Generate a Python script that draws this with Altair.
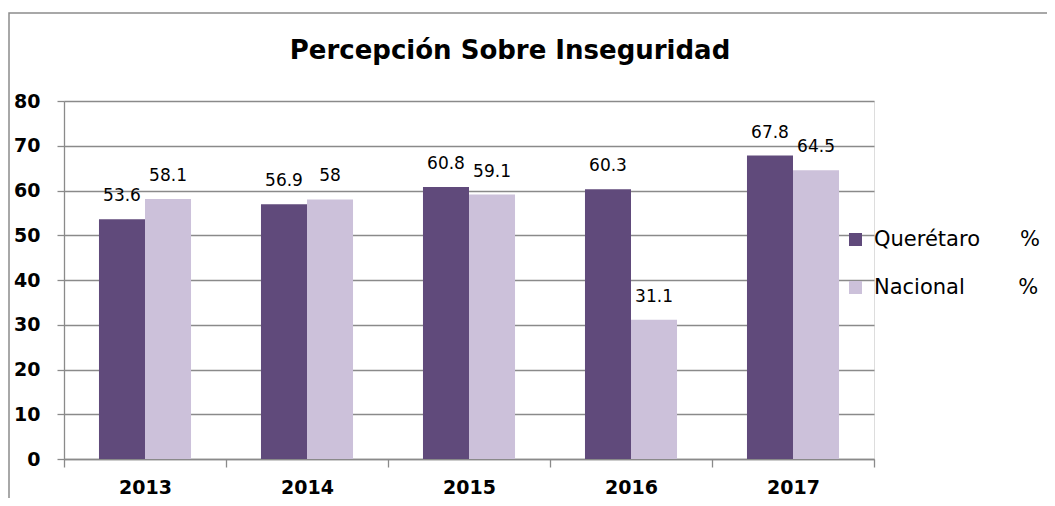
import altair as alt
import pandas as pd

years = ["2013", "2014", "2015", "2016", "2017"]
queretaro = [53.6, 56.9, 60.8, 60.3, 67.8]
nacional = [58.1, 58, 59.1, 31.1, 64.5]
series = ["Querétaro", "Nacional"]
colors = ["#604A7B", "#CCC1DA"]
y_ticks = [0, 10, 20, 30, 40, 50, 60, 70, 80]

rows = []
for i, yr in enumerate(years):
    rows.append({"year": yr, "serie": series[0], "valor": queretaro[i]})
    rows.append({"year": yr, "serie": series[1], "valor": nacional[i]})
df = pd.DataFrame(rows)

FONT = "DejaVu Sans"
GRAY = "#8a8a8a"
NB = "\u00a0"
lab_q = "Querétaro" + NB * 6 + "%"
lab_n = "Nacional" + NB * 8 + "%"

x_enc = alt.X("year:N", sort=years,
              scale=alt.Scale(paddingInner=0, paddingOuter=0),
              axis=alt.Axis(title=None, labelFont=FONT, labelFontSize=19,
                            labelFontWeight="bold", labelColor="black",
                            labelAngle=0, tickBand="extent", ticks=True,
                            tickSize=8, tickColor=GRAY, tickWidth=1.3,
                            domainColor=GRAY, domainWidth=1.3,
                            labelPadding=11, grid=False))
xo_enc = alt.XOffset("serie:N", sort=series,
                     scale=alt.Scale(paddingInner=0, paddingOuter=0.76))
y_enc = alt.Y("valor:Q", scale=alt.Scale(domain=[0, 80], nice=False),
              axis=alt.Axis(title=None, values=y_ticks, labelFont=FONT,
                            labelFontSize=19, labelFontWeight="bold",
                            labelColor="black", tickSize=7, tickColor=GRAY,
                            tickWidth=1.3, domainColor=GRAY, domainWidth=1.3,
                            gridColor=GRAY, gridWidth=1.3, grid=True,
                            labelPadding=17))

legend = alt.Legend(orient="none", legendX=781, legendY=128, title=None,
                    symbolType="square", symbolSize=169, symbolStrokeWidth=0,
                    labelFont=FONT, labelFontSize=21, labelColor="black",
                    labelOffset=8, rowPadding=26, padding=0,
                    labelLimit=300,
                    labelExpr=f"datum.label == 'Querétaro' ? '{lab_q}' : '{lab_n}'")

base = alt.Chart(df)

bars = base.mark_bar().encode(
    x=x_enc, xOffset=xo_enc, y=y_enc,
    color=alt.Color("serie:N", sort=series,
                    scale=alt.Scale(domain=series, range=colors),
                    legend=legend),
)

labels = base.transform_calculate(
    label="toString(datum.valor)"
).mark_text(font=FONT, fontSize=17, baseline="middle", dy=-23,
            color="black").encode(
    x=x_enc, xOffset=xo_enc, y=y_enc, text="label:N"
)

border = alt.Chart(alt.Data(values=[{}])).mark_rect(
    fillOpacity=0, stroke="#8c8c8c", strokeWidth=1.5
).encode(x=alt.value(-55), x2=alt.value(1200), y=alt.value(-88),
         y2=alt.value(600))

chart = alt.layer(border, bars, labels).properties(
    width=810, height=358,
    title=alt.TitleParams("Percepción Sobre Inseguridad", font=FONT,
                          fontSize=26, fontWeight="bold", color="black",
                          anchor="middle", dx=41, dy=73, offset=0,
                          baseline="alphabetic"),
    autosize=alt.AutoSizeParams(type="none"),
    padding={"left": 56, "top": 93, "right": 173, "bottom": 39},
).configure_view(stroke=None).configure(background="white")

chart.save("out.html", embed_options={"renderer": "svg", "actions": False})
